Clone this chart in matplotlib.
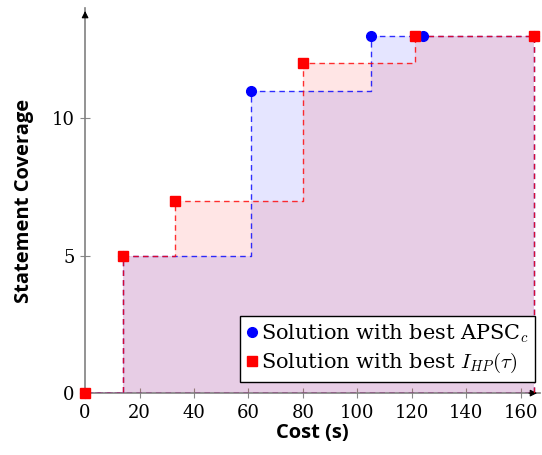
import matplotlib.pyplot as plt

plt.rcParams['mathtext.fontset'] = 'cm'
plt.rcParams['font.family'] = ['DejaVu Serif']

# cost (s) / statement coverage for each solution
apsc_cost = [0, 14, 61, 105, 124, 165]
apsc_cov = [0, 5, 11, 13, 13, 13]
ihp_cost = [0, 14, 33, 80, 121, 165]
ihp_cov = [0, 5, 7, 12, 13, 13]

xticks = [0, 20, 40, 60, 80, 100, 120, 140, 160]
yticks = [0, 5, 10]

fig = plt.figure(figsize=(5.42, 4.55), dpi=100)
ax = fig.add_axes([0.157, 0.136, 0.839, 0.846])

dash = (0, (4, 3))
series = [(apsc_cost, apsc_cov, 'blue', 'o', 'Solution with best APSC$_c$'),
          (ihp_cost, ihp_cov, 'red', 's', r'Solution with best $I_{HP}(\tau)$')]

for i, (xs, ys, col, mk, lab) in enumerate(series):
    ax.fill_between(xs, ys, step='post', color=col, alpha=0.1, lw=0, zorder=1 + i)
    # closed outline of the step area
    ax.step(xs + [xs[-1], xs[0]], ys + [0, 0], where='post', color=col,
            ls=dash, lw=1.0, alpha=0.8, zorder=3 + i)
for i, (xs, ys, col, mk, lab) in enumerate(series):
    ax.plot(xs, ys, ls='none', marker=mk, color=col, ms=7 if mk == 'o' else 7.5,
            label=lab, zorder=6 + i, clip_on=False)

ax.set_xlim(0, 167)
ax.set_ylim(0, 14)
ax.set_xticks(xticks)
ax.set_yticks(yticks)
ax.tick_params(direction='inout', length=7, width=0.8, color='#888888',
               labelsize=13, pad=4)
for s in ['top', 'right']:
    ax.spines[s].set_visible(False)
for s in ['left', 'bottom']:
    ax.spines[s].set_color('#808080')
    ax.spines[s].set_linewidth(1.2)

# axis arrows
ax.annotate('', xy=(0, 1.0), xytext=(0, 0.97), xycoords='axes fraction',
            arrowprops=dict(arrowstyle='-|>', color='black', lw=0.8,
                            mutation_scale=10))
ax.annotate('', xy=(1.0, 0), xytext=(0.97, 0), xycoords='axes fraction',
            arrowprops=dict(arrowstyle='-|>', color='black', lw=0.8,
                            mutation_scale=10))

ax.set_xlabel('Cost (s)', fontsize=14.5, fontweight='bold', family='Open Sans', labelpad=1)
ax.set_ylabel('Statement Coverage', fontsize=14.5, fontweight='bold', family='Open Sans', labelpad=13)

leg = ax.legend(loc='lower right', bbox_to_anchor=(0.99, 0.03), borderaxespad=0,
                fontsize=15, fancybox=False, edgecolor='black', framealpha=1,
                handlelength=0.5, handletextpad=0.2, borderpad=0.3, labelspacing=0.3)
leg.get_frame().set_linewidth(1.0)

plt.savefig('out.png', dpi=100)
